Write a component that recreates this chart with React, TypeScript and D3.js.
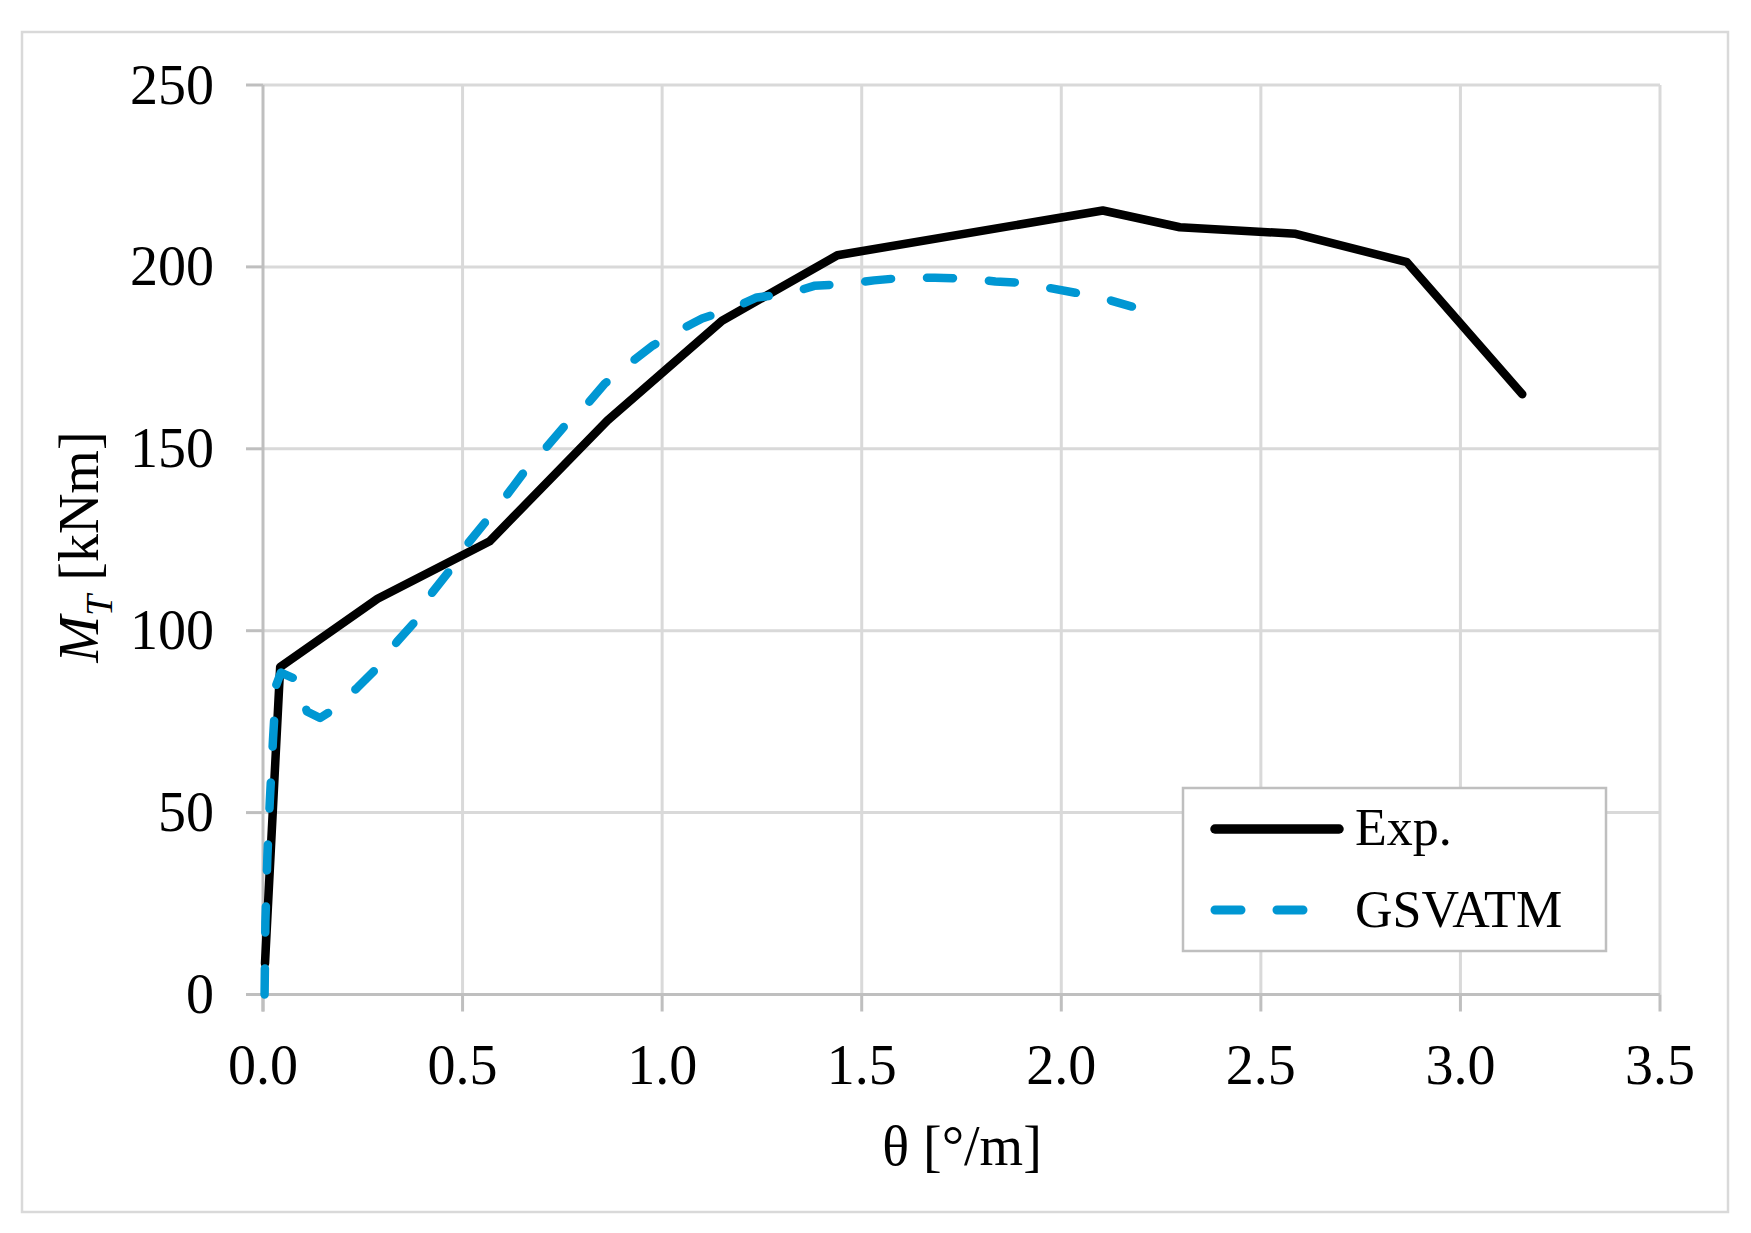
import * as d3 from "d3";

// experimental curve
const expTheta = [0.005, 0.043, 0.287, 0.568, 0.863, 1.15, 1.439, 2.104, 2.297, 2.587, 2.866, 3.155];
const expMoment = [8.5, 90, 108.8, 124.6, 157.8, 185.2, 203.2, 215.5, 210.9, 209.1, 201.3, 165];

// GSVATM model curve
const gsvTheta = [
  0.004, 0.006, 0.011, 0.017, 0.025, 0.033, 0.045, 0.084, 0.11, 0.143, 0.176, 0.236, 0.286, 0.336,
  0.381, 0.424, 0.474, 0.51, 0.561, 0.611, 0.654, 0.705, 0.755, 0.81, 0.856, 0.92, 0.977, 1.043,
  1.1, 1.172, 1.237, 1.316, 1.381, 1.46, 1.531, 1.604, 1.683, 1.762, 1.835, 1.906, 1.97, 2.035,
  2.104, 2.177,
];
const gsvMoment = [
  0, 20, 38, 53, 70, 85, 88.5, 86.6, 77.8, 76, 78.3, 84.3, 89.8, 97, 102.5, 110.5, 117.4, 123.5,
  130.4, 137.3, 143.6, 149.8, 156.2, 162, 167.9, 173.6, 178.4, 182.6, 185.8, 188.4, 191.6, 192.6,
  194.8, 195.3, 196.3, 197, 197, 196.8, 196, 195.6, 194.2, 192.9, 191.4, 189.1,
];

const xTicks = [0, 0.5, 1, 1.5, 2, 2.5, 3, 3.5];
const yTicks = [0, 50, 100, 150, 200, 250];

const W = 1751;
const H = 1233;
const FONT = "'Liberation Serif', 'Times New Roman', serif";

export default function App() {
  const x = d3.scaleLinear().domain([0, 3.5]).range([263, 1660]);
  const y = d3.scaleLinear().domain([0, 250]).range([994.5, 85]);

  const line = d3
    .line<[number, number]>()
    .x((d) => x(d[0]))
    .y((d) => y(d[1]));

  const expPts = expTheta.map((t, i) => [t, expMoment[i]] as [number, number]);
  const gsvPts = gsvTheta.map((t, i) => [t, gsvMoment[i]] as [number, number]);

  const grid = "#d9d9d9";
  const axis = "#bfbfbf";
  const blue = "#0097d3";

  return (
    <svg
      width={W}
      height={H}
      style={{ position: "absolute", left: 0, top: 0, background: "#fff" }}
      fontFamily={FONT}
    >
      <rect x={0} y={0} width={W} height={H} fill="#fff" />
      <rect x={22} y={32} width={1706} height={1180} fill="none" stroke={grid} strokeWidth={2.5} />

      {/* gridlines */}
      {xTicks.slice(1).map((t) => (
        <line key={"gx" + t} x1={x(t)} x2={x(t)} y1={y(250)} y2={y(0)} stroke={grid} strokeWidth={3} />
      ))}
      {yTicks.slice(1).map((t) => (
        <line key={"gy" + t} x1={x(0)} x2={x(3.5)} y1={y(t)} y2={y(t)} stroke={grid} strokeWidth={3} />
      ))}

      {/* axes + ticks */}
      <line x1={x(0)} x2={x(0)} y1={y(250)} y2={y(0) + 17} stroke={axis} strokeWidth={3} />
      <line x1={x(0) - 17} x2={x(3.5)} y1={y(0)} y2={y(0)} stroke={axis} strokeWidth={3} />
      {xTicks.map((t) => (
        <line key={"tx" + t} x1={x(t)} x2={x(t)} y1={y(0)} y2={y(0) + 17} stroke={axis} strokeWidth={3} />
      ))}
      {yTicks.map((t) => (
        <line key={"ty" + t} x1={x(0) - 17} x2={x(0)} y1={y(t)} y2={y(t)} stroke={axis} strokeWidth={3} />
      ))}

      {/* tick labels */}
      {yTicks.map((t) => (
        <text key={"ly" + t} x={214} y={y(t) + 18.5} fontSize={56} textAnchor="end" fill="#000">
          {t}
        </text>
      ))}
      {xTicks.map((t) => (
        <text key={"lx" + t} x={x(t)} y={1084} fontSize={56} textAnchor="middle" fill="#000">
          {t.toFixed(1)}
        </text>
      ))}

      {/* axis titles */}
      <text x={962} y={1165} fontSize={56} textAnchor="middle" fill="#000">
        θ [°/m]
      </text>
      <text transform="translate(98,547) rotate(-90)" fontSize={56} textAnchor="middle" fill="#000">
        <tspan fontStyle="italic">M</tspan>
        <tspan fontStyle="italic" fontSize={38} dy={14}>
          T
        </tspan>
        <tspan dy={-14}> [kNm]</tspan>
      </text>

      {/* series */}
      <path
        d={line(expPts) ?? ""}
        fill="none"
        stroke="#000"
        strokeWidth={8.5}
        strokeLinejoin="round"
        strokeLinecap="round"
      />
      <path
        d={line(gsvPts) ?? ""}
        fill="none"
        stroke={blue}
        strokeWidth={8.5}
        strokeDasharray="26 36"
        strokeLinejoin="round"
        strokeLinecap="round"
      />

      {/* legend */}
      <rect x={1183} y={788} width={423} height={163} fill="#fff" stroke={axis} strokeWidth={2.5} />
      <line x1={1215} x2={1339} y1={829} y2={829} stroke="#000" strokeWidth={9.5} strokeLinecap="round" />
      <text x={1355} y={845} fontSize={52} fill="#000">
        Exp.
      </text>
      <line
        x1={1215}
        x2={1339}
        y1={910}
        y2={910}
        stroke={blue}
        strokeWidth={9}
        strokeLinecap="round"
        strokeDasharray="26 36"
      />
      <text x={1355} y={927} fontSize={52} fill="#000">
        GSVATM
      </text>
    </svg>
  );
}
